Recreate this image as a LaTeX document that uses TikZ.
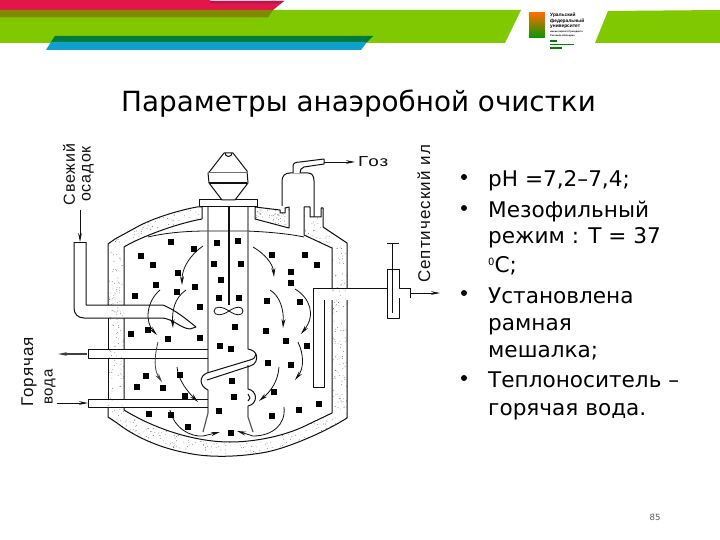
\documentclass[tikz,border=0pt]{standalone}
\usepackage{fontspec}
\setmainfont{DejaVu Sans}
\newfontfamily\lblfont[LetterSpace=6]{Liberation Sans}
\newfontfamily\logofont{Liberation Sans}
\usetikzlibrary{arrows.meta}
\definecolor{ink}{HTML}{111111}
\definecolor{limeg}{HTML}{80C800}
\definecolor{olive}{HTML}{808A00}
\definecolor{crim}{HTML}{E3154B}
\definecolor{dkred}{HTML}{B5174F}
\definecolor{dkgreen}{HTML}{007A3A}
\definecolor{cyanb}{HTML}{0FA0CC}
\tikzset{
  wall/.style={draw=ink,line width=1pt,line join=round},
  tube/.style={draw=ink!70,line width=1.2pt},
  thin line/.style={draw=ink,line width=0.8pt},
  flow/.style={draw=ink,line width=0.8pt,-{Stealth[length=9pt,width=4pt]}},
  lead/.style={draw=ink,line width=0.8pt,-{Stealth[length=9pt,width=3.6pt]}},
  title text/.style={anchor=base west,inner sep=0pt,text=black,font=\fontsize{27.8}{30}\selectfont},
  body text/.style={anchor=base west,inner sep=0pt,text=black,font=\fontsize{21.6}{24}\selectfont},
  bullet mark/.style={circle,fill=black,inner sep=0pt,minimum size=6pt},
  scan label/.style={anchor=center,rotate=90,inner sep=0pt,text=ink},
  logo text/.style={anchor=base west,inner sep=0pt,text=black,font=\logofont\bfseries\fontsize{4.8}{5}\selectfont},
  logo small/.style={anchor=base west,inner sep=0pt,text=black,font=\logofont\bfseries\fontsize{2.4}{3}\selectfont},
}
\newcommand{\sq}[3][5.5]{\fill[black] ({#2-#1/2},{#3-#1/2}) rectangle ({#2+#1/2},{#3+#1/2});}
\begin{document}
\begin{tikzpicture}[x=1pt,y=-1pt]
\useasboundingbox (0,0) rectangle (720,540);
\fill[white] (0,0) rectangle (720,540);
% --- header bands
\fill[limeg] (0,10) -- (521,10) -- (505,43) -- (0,43) -- cycle;
\fill[limeg] (608,11) -- (720,10) -- (720,43) -- (595,43) -- cycle;
\fill[crim] (0,0) -- (210,0) -- (210,1) -- (284,1) -- (273,10) -- (0,10) -- cycle;
\fill[dkred] (210,1) -- (284,1) -- (281,3.5) -- (210,3.5) -- cycle;
\fill[olive] (0,10) -- (273,10) -- (268,17.5) -- (0,17.5) -- cycle;
\fill[dkgreen] (55,36) -- (373,36) -- (367,42) -- (51,42) -- cycle;
\fill[cyanb] (51,42) -- (367,42) -- (361,50) -- (46,50) -- cycle;
% --- logo
\shade[top color=orange!85!red,middle color=yellow!85!orange,bottom color=green!60!black] (529,13) rectangle (545,38);
\node[logo text] (logoa) at (550,17) {Уральский};
\node[logo text] (logob) at (550,22.5) {федеральный};
\node[logo text] (logoc) at (550,28) {университет};
\node[logo small] (logod) at (550,32.5) {имени первого Президента};
\node[logo small] (logoe) at (550,37) {России Б.Н.Ельцина};
\draw[green!50!black,line width=1.1pt] (550,41)--(556.5,41) (550,44.5)--(574,44.5) (550,48)--(562,48);
% --- title
\node[title text] (title) at (121,112) {Параметры анаэробной очистки};
% --- vessel wall with stippling
\def\wallpath{(202,207) -- (197,207) .. controls (180,210) and (153,218) .. (137,227) -- (115,239) -- (108,244) -- (108,417) -- (117,423) .. controls (135,437) and (160,448) .. (187,453) .. controls (210,458) and (240,457) .. (267,452) .. controls (290,447) and (325,432) .. (347,418) -- (347,243) -- (323,227) -- (323,208) -- (321,208) -- (321,217) -- (310,217) -- (310,207) -- (304,207) -- (304,235) -- (332,248) -- (332,413) -- (307,425) .. controls (285,436) and (255,442) .. (230,442) .. controls (200,442) and (160,432) .. (124,410) -- (124,247) .. controls (135,240) and (170,225) .. (202,219) -- cycle}
\def\capApath{(255,207) -- (280,210) -- (280,213) -- (285,213) -- (285,208) -- (289,207) -- (289,228) -- (255,219) -- cycle}
\begin{scope}
\clip \wallpath;
\pgfmathsetseed{4242}
\foreach \i in {1,...,2600}{
  \pgfmathsetmacro\xx{100+rnd*255}
  \pgfmathsetmacro\yy{200+rnd*262}
  \fill[black!65] (\xx,\yy) circle (0.4);
}
\end{scope}
\begin{scope}
\clip \capApath;
\pgfmathsetseed{77}
\foreach \i in {1,...,90}{
  \pgfmathsetmacro\xx{255+rnd*35}
  \pgfmathsetmacro\yy{205+rnd*25}
  \fill[black!65] (\xx,\yy) circle (0.4);
}
\end{scope}
% wall outlines, gaps left where the pipes pass
\draw[wall] (202,219) -- (202,207) -- (197,207) .. controls (180,210) and (153,218) .. (137,227) -- (115,239) -- (108,244) -- (108,305);
\draw[wall] (108,318) -- (108,349) (108,358) -- (108,399);
\draw[wall] (108,407) -- (108,417) -- (117,423) .. controls (135,437) and (160,448) .. (187,453) .. controls (210,458) and (240,457) .. (267,452) .. controls (290,447) and (325,432) .. (347,418) -- (347,300);
\draw[wall] (347,288) -- (347,243) -- (323,227) -- (323,208) -- (321,208) -- (321,217) -- (310,217) -- (310,207) -- (304,207) -- (304,235) -- (332,248) -- (332,288);
\draw[wall] (332,300) -- (332,413) -- (307,425) .. controls (285,436) and (255,442) .. (230,442) .. controls (200,442) and (160,432) .. (124,410) -- (124,407);
\draw[wall] (124,399) -- (124,358) (124,349) -- (124,318) (124,305) -- (124,247) .. controls (135,240) and (170,225) .. (202,219);
\draw[wall] \capApath;
% roof line of the digester space
\draw[thin line] (148,237) .. controls (165,233) and (185,231) .. (208,231) -- (247,231) .. controls (270,232) and (290,234) .. (304,237);
% --- central draught tube, shaft, dome
\draw[tube] (208,207) -- (208,373) (208,390) -- (208,413) -- (203,432);
\draw[tube] (248,207) -- (248,349) (248,365) -- (248,389) (248,406) -- (248,417) -- (253,432);
\draw[ink,line width=1.3pt] (229,207) -- (229,305);
\draw[wall,fill=white] (199,200) -- (257,200) -- (257,207) -- (199,207) -- cycle;
\draw[wall,fill=white] (222,200) -- (209,183) -- (208,173) -- (210,171) -- (224,153) -- (233,153) -- (247,171) -- (248,183) -- (235,200) -- cycle;
\draw[wall] (225,153) arc[start angle=180,end angle=0,radius=3.5] ;
\draw[thin line,draw=ink!60] (208,172) -- (248,172);
\draw[ink,line width=1.8pt] (209,183) -- (247,183);
% impeller
\draw[thin line] (229,311) .. controls (222,306) and (214,306) .. (214,311) .. controls (214,316) and (222,316) .. (229,311) .. controls (236,306) and (243,306) .. (243,311) .. controls (243,316) and (236,316) .. (229,311);
% --- fresh sludge pipe
\draw[wall] (74,242) -- (86,242);
\draw[wall] (74,242) -- (74,308) .. controls (74,314) and (78,318) .. (84,318) -- (163,318) .. controls (175,320) and (180,328) .. (190,329) -- (196,327) .. controls (185,318) and (175,310) .. (163,305) -- (86,305) -- (86,242);
\coordinate (sludgefrom) at (80,210);
\coordinate (sludgeto) at (80,242);
\draw[lead] (sludgefrom) -- (sludgeto);
% --- heating water pipes
\draw[wall] (208,349) -- (88,349) -- (88,358) -- (208,358);
\draw[wall] (208,399) -- (88,399) -- (88,407) -- (208,407);
\coordinate (hotoutA) at (87,354);
\coordinate (hotoutB) at (58,354);
\coordinate (hotinA) at (57,403);
\coordinate (hotinB) at (88,403);
\draw[lead,line width=1.1pt,draw=ink!80] (hotoutA) -- (hotoutB);
\draw[lead] (hotinA) -- (hotinB);
% hook pipe in the tube
\draw[wall] (248,349) .. controls (258,351) and (258,358) .. (250,360) -- (207,373) .. controls (199,376) and (199,386) .. (208,390);
\draw[wall] (250,366) -- (207,380);
\draw[wall] (250,366) .. controls (256,365) and (258,358) .. (256,354);
\draw[wall] (248,389) .. controls (258,391) and (258,404) .. (248,406);
\draw[wall] (248,394) -- (250,398) -- (248,401);
% --- gas hood and outlet
\draw[wall] (282,206) -- (282,181) .. controls (282,176) and (285,173) .. (290,173) -- (308,173) .. controls (312,173) and (314,176) .. (314,181) -- (314,217);
\draw[wall,fill=white] (293,173) -- (293,166) .. controls (293,163) and (296,162) .. (300,162) -- (324,159) -- (324,164) -- (304,167) .. controls (301,168) and (300,170) .. (300,173);
\coordinate (gasfrom) at (324,162);
\coordinate (gasto) at (355,162);
\draw[lead] (gasfrom) -- (gasto);
% --- septic sludge draw-off
\draw[wall] (387,288) -- (313,288) -- (313,387) -- (324,387) -- (324,300);
\draw[wall] (387,269) -- (399,269) -- (399,288) -- (410,288);
\draw[wall] (387,269) -- (387,318) -- (399,318) -- (399,298);
\draw[wall] (392,243) -- (392,313) (387,243) -- (399,243);
\draw[wall] (410,288) -- (410,298);
\coordinate (septfrom) at (410,293);
\coordinate (septto) at (440,293);
\draw[lead] (septfrom) -- (septto);
% --- circulation arrows
\draw[flow] (203,246) .. controls (190,255) and (182,268) .. (182,285);
\draw[flow] (160,290) .. controls (146,302) and (145,322) .. (157,335);
\draw[flow] (186,290) .. controls (174,298) and (172,312) .. (173,328);
\draw[flow,draw=ink!80] (158,342) .. controls (154,358) and (154,370) .. (162,382);
\draw[flow] (177,367) .. controls (178,380) and (188,392) .. (198,402);
\draw[flow] (170,410) .. controls (174,428) and (190,437) .. (203,436) -- (220,432);
\draw[flow] (253,247) .. controls (265,254) and (273,264) .. (274,277);
\draw[flow] (270,290) .. controls (280,296) and (284,310) .. (283,328);
\draw[flow] (295,289) .. controls (310,298) and (316,315) .. (301,334);
\draw[flow] (298,342) .. controls (304,355) and (304,368) .. (295,380);
\draw[flow] (279,367) .. controls (278,382) and (270,392) .. (259,401);
\draw[flow] (284,407) .. controls (286,425) and (272,436) .. (253,436) -- (237,431);
% --- sludge particles
\foreach \a/\b in {171/242,194/249,141/256,153/265,178/273,156/285,195/287,217/243,238/241,214/264,241/264,221/280,272/255,305/255,317/265,291/272,291/283,135/296,177/292,200/307,219/298,239/298,235/327,131/334,148/330,168/339,200/338,220/346,231/349,146/376,137/387,163/388,180/375,185/396,232/381,234/397,219/411,149/414,171/415,188/427,231/433,267/301,300/302,266/331,286/341,307/346,268/363,291/365,274/392,272/416,299/410,319/404}{\sq{\a}{\b}}
% --- labels of the scheme
\node[scan label,font=\lblfont\fontsize{16}{18}\selectfont] (svezh) at (69,174.5) {Свежий};
\node[scan label,font=\lblfont\fontsize{16}{18}\selectfont] (osad) at (88,174) {осадок};
\node[scan label,font=\lblfont\fontsize{17}{19}\selectfont] (gor) at (29,372) {Горячая};
\node[scan label,font=\lblfont\fontsize{15}{17}\selectfont] (voda) at (50,387) {вода};
\node[scan label,font=\lblfont\fontsize{17}{19}\selectfont] (sept) at (424,214) {Септический ил};
\node[anchor=base west,inner sep=0pt,text=ink,font=\lblfont\fontsize{14.5}{16}\selectfont] (gaz) at (358,167) {\scalebox{1.3}[1]{Гоз}};
% --- bullet list
\foreach \y in {177,208,293,378}{\node[bullet mark] at (464,\y) {};}
\node[body text] (l1) at (488,187) {pH =7,2–7,4;};
\node[body text] (l2) at (488,218) {Мезофильный};
\node[body text] (l3) at (488,243.5) {режим : Т = 37};
\node[body text] (l4) at (488,272) {\raisebox{6pt}{\fontsize{10}{10}\selectfont 0}С;};
\node[body text] (l5) at (488,303) {Установлена};
\node[body text] (l6) at (488,330) {рамная};
\node[body text] (l7) at (488,357) {мешалка;};
\node[body text] (l8) at (488,387) {Теплоноситель –};
\node[body text] (l9) at (488,415) {горячая вода.};
\node[anchor=center,text=black!65,font=\fontsize{8.5}{10}\selectfont] (pg) at (655,517) {85};
\end{tikzpicture}
\end{document}
